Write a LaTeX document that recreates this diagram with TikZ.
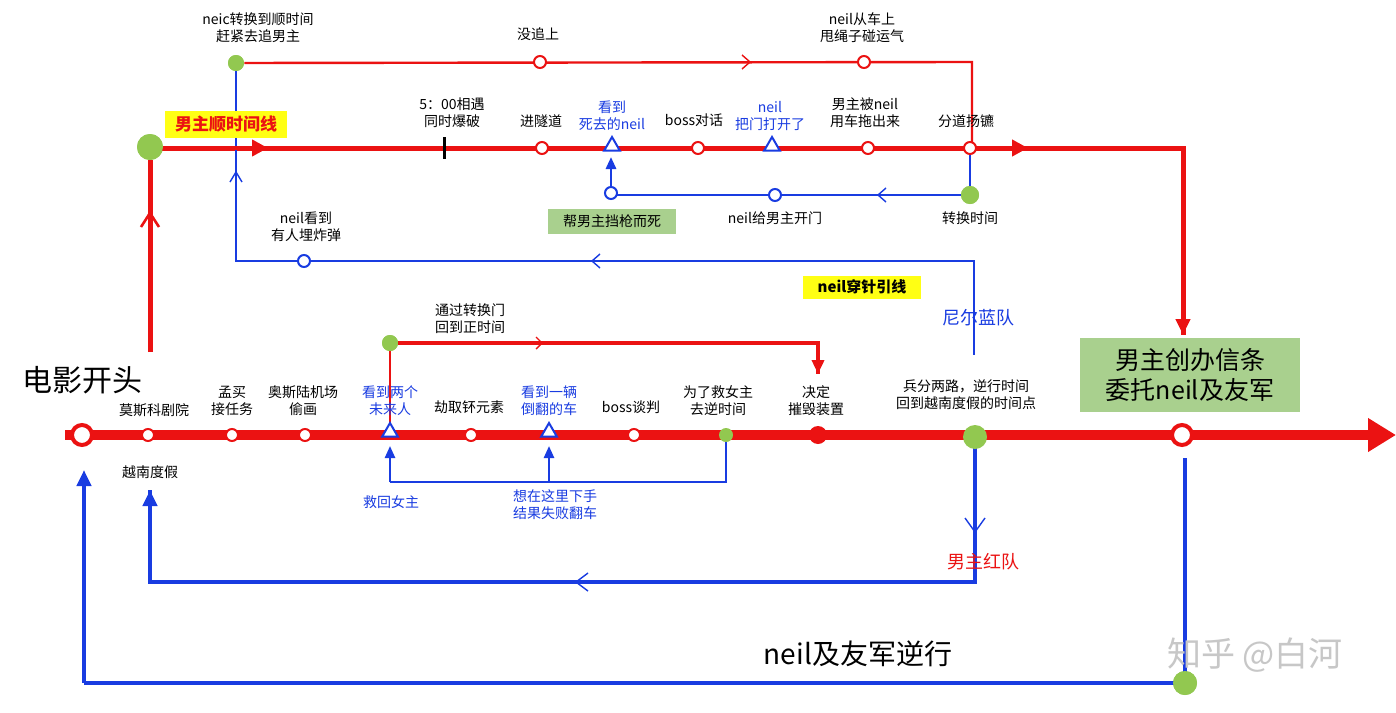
\documentclass[tikz,border=0pt]{standalone}
\usepackage{fontspec}
\setmainfont{Noto Sans CJK SC}
\usetikzlibrary{arrows.meta,shapes.geometric}
\definecolor{rd}{RGB}{235,18,18}
\definecolor{bl}{RGB}{25,60,225}
\definecolor{gn}{RGB}{146,200,80}
\definecolor{bx}{RGB}{169,208,142}
\definecolor{yl}{RGB}{255,255,20}
\begin{document}
\begin{tikzpicture}[x=0.5pt,y=-0.5pt,
 lbl/.style={font=\fontsize{7}{8.5}\selectfont,align=center,inner sep=0pt},
 blbl/.style={lbl,text=bl},
 rc/.style={circle,draw=rd,line width=1pt,fill=white,minimum size=6pt,inner sep=0pt},
 bc/.style={circle,draw=bl,line width=1pt,fill=white,minimum size=6pt,inner sep=0pt},
 gd/.style={circle,fill=gn,minimum size=#1,inner sep=0pt},
 tri/.style={regular polygon,regular polygon sides=3,draw=bl,line width=1pt,fill=white,minimum size=9pt,inner sep=0pt},
 chev/.style={line width=0.7pt}]
\useasboundingbox (0,0) rectangle (1396,712);
\fill[white] (0,0) rectangle (1396,712);
% ---- blue return paths (under) ----
\coordinate (b1a) at (975,440); \coordinate (b1b) at (975,582); \coordinate (b1c) at (150,582); \coordinate (b1d) at (150,490);
\draw[bl,line width=2pt] (b1a)--(b1b)--(b1c)--(b1d);
\draw[bl,-{Triangle[width=7pt,length=8pt]},line width=2pt] (b1c)--(b1d);
\draw[bl,chev] (965,518)--(975,532)--(985,518);
\draw[bl,chev] (588,573)--(576,582)--(588,591);
\node[gd=12pt] (g3) at (1185,683) {};
\coordinate (b2a) at (1185,458); \coordinate (b2c) at (84,683); \coordinate (b2d) at (84,470);
\draw[bl,line width=2pt] (b2a)--(g3.center)--(b2c);
\draw[bl,-{Triangle[width=7pt,length=8pt]},line width=2pt] (b2c)--(b2d);
\node[gd=12pt] at (1185,683) {};
% blue from 726 back
\coordinate (s1) at (726,440); \coordinate (s2) at (726,482); \coordinate (s3) at (390,482);\coordinate (s4) at (549,482);
\draw[bl,line width=1.2pt] (s1)--(s2)--(s3);
\draw[bl,line width=1.2pt,-{Triangle[width=5pt,length=6pt]}] (s3)--(390,446);
\draw[bl,line width=1.2pt,-{Triangle[width=5pt,length=6pt]}] (s4)--(549,446);
% ---- top blue loop ----
\node[gd=8pt] (gt) at (236,63) {};
\coordinate (t1) at (236,261); \coordinate (t2) at (974,261); \coordinate (t3) at (974,355);
\draw[bl,line width=1pt] (gt)--(t1)--(t2)--(t3);
\draw[bl,chev] (230,182)--(236,172)--(242,182);
\draw[bl,chev] (600,254)--(592,261)--(600,268);
\node[bc] (n1) at (304,261) {};
% ---- top red thin loop ----
\coordinate (r1) at (972,62); \coordinate (r2) at (972,148);
\draw[rd,line width=1.2pt] (gt)--(r1)--(r2);
\draw[rd,chev] (742,55)--(750,62)--(742,69);
\node[rc] at (540,62) {}; \node[rc] at (864,62) {};
\node[gd=8pt] at (236,63) {};
% ---- inner blue loop ----
\node[gd=9pt] (gi) at (970,195) {};
\coordinate (i0) at (970,155); \coordinate (i1) at (611,195);
\draw[bl,line width=1.4pt] (i0)--(gi)--(i1);
\draw[bl,line width=1.4pt,-{Triangle[width=5pt,length=6pt]}] (i1)--(611,157);
\draw[bl,chev] (886,188)--(878,195)--(886,202);
\node[bc] at (611,193) {}; \node[bc] at (775,195) {};
\node[gd=9pt] at (970,195) {};
% ---- upper red timeline ----
\node[gd=13pt] (g1) at (150,147) {};
\coordinate (u1) at (150,352);
\draw[rd,line width=2.5pt] (u1)--(g1);
\draw[rd,line width=1.3pt] (141,227)--(150,213)--(159,227);
\coordinate (u0) at (150,148); \coordinate (u2) at (1183,148); \coordinate (u3) at (1183,335);
\draw[rd,line width=2.5pt] (u0)--(u2)--(u3);
\draw[rd,line width=2.5pt,-{Triangle[width=7pt,length=8pt]}] (1183,300)--(u3);
\draw[rd,line width=2.5pt,-{Triangle[width=8pt,length=8pt]}] (900,148)--(1028,148);
\draw[rd,line width=2.5pt,-{Triangle[width=8pt,length=8pt]}] (200,148)--(268,148);
\draw[bl,line width=1pt] (236,150)--(236,172);
\node[gd=13pt] at (150,147) {};
\draw[black,line width=1.5pt] (444,137)--(444,159);
\foreach \x in {542,698,868,970} \node[rc] at (\x,148) {};
\foreach \x in {612,772} \node[tri] at (\x,146) {};
\node[fill=yl,font=\bfseries\fontsize{8.5}{10}\selectfont,text=rd,minimum width=61pt,minimum height=13.5pt,inner sep=0pt] (ly) at (226,124) {男主顺时间线};
% ---- lower red branch ----
\node[gd=8pt] (g2) at (390,343) {};
\coordinate (l1) at (818,343); \coordinate (l2) at (818,374);
\draw[rd,line width=1.8pt] (g2)--(l1)--(l2);
\draw[rd,line width=1.8pt,-{Triangle[width=6pt,length=7pt]}] (818,355)--(l2);
\draw[rd,line width=1pt] (g2)--(390,425);
\draw[rd,chev] (536,337)--(542,343)--(536,349);
\node[gd=8pt] at (390,343) {};
% ---- main line ----
\coordinate (m0) at (65,435); \coordinate (m1) at (1396,435);
\draw[rd,line width=5pt,-{Triangle[width=16pt,length=14pt]}] (m0)--(m1);
\node[circle,draw=rd,line width=2pt,fill=white,minimum size=10pt,inner sep=0pt] at (82,435) {};
\foreach \x in {148,232,305,471,634} \node[rc] at (\x,435) {};
\foreach \x in {390,549} \node[tri] at (\x,432) {};
\node[gd=7pt] at (726,435) {};
\node[circle,fill=rd,minimum size=9pt,inner sep=0pt] at (818,435) {};
\node[gd=12pt] (gm) at (975,437) {};
\node[circle,draw=rd,line width=2pt,fill=white,minimum size=10pt,inner sep=0pt] at (1182,435) {};
\draw[bl,line width=2pt] (gm)--(975,460);
% ---- boxes ----
\node[fill=bx,minimum width=110pt,minimum height=37pt,align=center,font=\fontsize{12.5}{15}\selectfont,inner sep=0pt] (bigbox) at (1190,375) {男主创办信条\\委托neil及友军};
\node[fill=bx,lbl,minimum width=64pt,minimum height=12.5pt] at (612,221) {帮男主挡枪而死};
\node[fill=yl,font=\bfseries\fontsize{7.5}{9}\selectfont,minimum width=59pt,minimum height=11.5pt,inner sep=0pt] at (862,287) {neil穿针引线};
% ---- labels ----
\node[lbl] at (258,28) {neic转换到顺时间\\赶紧去追男主};
\node[lbl] at (538,34) {没追上};
\node[lbl] at (862,28) {neil从车上\\甩绳子碰运气};
\node[lbl] at (452,113) {5：00相遇\\同时爆破};
\node[lbl] at (541,121) {进隧道};
\node[blbl] at (612,116) {看到\\死去的neil};
\node[lbl] at (694,120) {boss对话};
\node[blbl] at (770,116) {neil\\把门打开了};
\node[lbl] at (865,113) {男主被neil\\用车拖出来};
\node[lbl] at (966,121) {分道扬镳};
\node[lbl] at (775,218) {neil给男主开门};
\node[lbl] at (970,218) {转换时间};
\node[lbl] at (306,227) {neil看到\\有人埋炸弹};
\node[text=bl,font=\fontsize{9}{11}\selectfont,inner sep=0pt] at (978,318) {尼尔蓝队};
\node[lbl,align=left] at (470,319) {通过转换门\\回到正时间};
\node[font=\fontsize{15}{18}\selectfont,inner sep=0pt] at (82,380) {电影开头};
\node[lbl] at (154,410) {莫斯科剧院};
\node[lbl] at (232,401) {孟买\\接任务};
\node[lbl] at (303,401) {奥斯陆机场\\偷画};
\node[blbl] at (390,401) {看到两个\\未来人};
\node[lbl] at (469,407) {劫取钚元素};
\node[blbl] at (549,401) {看到一辆\\倒翻的车};
\node[lbl] at (631,407) {boss谈判};
\node[lbl] at (718,401) {为了救女主\\去逆时间};
\node[lbl] at (816,401) {决定\\摧毁装置};
\node[lbl] at (966,395) {兵分两路，逆行时间\\回到越南度假的时间点};
\node[lbl] at (150,472) {越南度假};
\node[blbl] at (391,502) {救回女主};
\node[blbl] at (555,505) {想在这里下手\\结果失败翻车};
\node[text=rd,font=\fontsize{9}{11}\selectfont,inner sep=0pt] at (983,562) {男主红队};
\node[font=\fontsize{14}{17}\selectfont,inner sep=0pt] at (858,654) {neil及友军逆行};
\node[text=black!22,font=\fontsize{17}{20}\selectfont,inner sep=0pt] at (1255,655) {知乎 @白河};
\end{tikzpicture}
\end{document}
